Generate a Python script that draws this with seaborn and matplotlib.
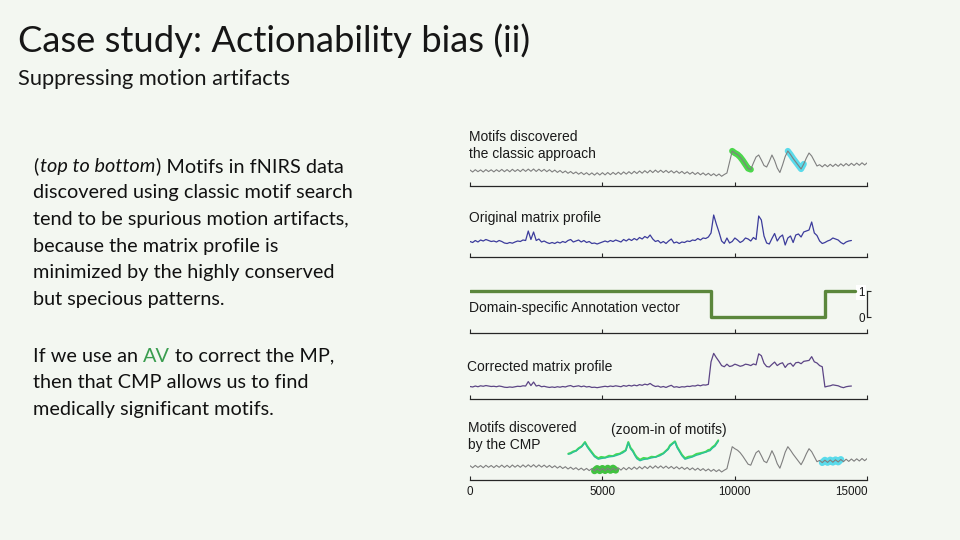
import numpy as np
import pandas as pd
import matplotlib
matplotlib.use("Agg")
import matplotlib.pyplot as plt
import seaborn as sns

# ------------------------------------------------------------------ data
sample_step = 100
x_ticks = [0, 5000, 10000, 15000]
x_tick_labels = ["0", "5000", "10000", "15000"]

# fNIRS recording (grey trace, arbitrary units), one value every 100 samples
fnirs_signal = [
    10.0, 8.0, 10.3, 8.3, 10.1, 8.0, 10.4, 8.4, 10.2, 8.1,
    10.3, 8.4, 10.6, 8.3, 10.4, 8.2, 10.7, 8.5, 10.5, 8.4,
    10.8, 8.6, 10.9, 8.7, 11.0, 8.5, 10.8, 8.6, 10.6, 8.3,
    10.3, 8.0, 9.9, 7.6, 9.5, 7.2, 9.0, 6.7, 8.5, 6.3,
    8.0, 5.8, 7.6, 5.4, 7.3, 5.1, 7.1, 4.9, 7.2, 5.0,
    7.3, 5.1, 7.5, 5.3, 7.6, 5.5, 7.8, 5.6, 8.1, 5.9,
    8.3, 6.2, 8.7, 6.5, 9.0, 6.8, 9.3, 7.1, 9.7, 7.4,
    9.9, 7.6, 9.8, 7.5, 9.6, 7.3, 9.3, 7.0, 9.0, 6.7,
    8.6, 6.3, 8.2, 5.9, 7.8, 5.5, 7.5, 5.2, 7.1, 4.8,
    6.7, 4.4, 6.3, 4.1, 6.0, 3.7, 5.5, 7.0, 18.0, 29.0,
    27.0, 25.5, 23.0, 19.5, 15.5, 11.5, 10.5, 17.0, 23.0, 25.0,
    20.0, 14.5, 13.0, 18.5, 25.0, 19.5, 12.0, 7.5, 15.0, 23.5,
    29.0, 25.5, 21.5, 18.0, 14.5, 11.0, 16.0, 22.0, 27.0, 24.0,
    19.0, 14.0, 15.3, 13.1, 15.5, 13.3, 15.7, 13.5, 15.9, 13.7,
    16.2, 14.0, 16.5, 14.3, 16.7, 14.5, 16.9, 14.7, 17.2, 15.0, 17.3,
]

# original matrix profile, one value every 100 samples
matrix_profile = [
    8.5, 7.5, 9.5, 8.0, 10.0, 9.0, 10.5, 9.5, 8.5, 9.0,
    8.0, 9.5, 8.5, 7.0, 6.5, 7.5, 6.8, 8.0, 9.0, 8.5,
    10.0, 9.5, 19.0, 10.5, 18.0, 9.5, 11.0, 8.0, 9.0, 7.5,
    6.5, 7.5, 6.5, 8.0, 7.0, 8.5, 7.5, 9.5, 10.5, 8.0,
    9.0, 10.0, 8.0, 9.5, 7.5, 8.5, 6.5, 7.0, 6.0, 7.0,
    8.0, 9.0, 8.0, 9.5, 8.5, 10.0, 9.0, 8.0, 10.5, 9.0,
    11.0, 9.5, 11.5, 10.0, 12.5, 11.0, 13.5, 12.0, 15.0, 11.0,
    8.5, 9.5, 7.0, 8.5, 6.5, 9.0, 11.0, 7.0, 8.0, 6.5,
    8.0, 7.5, 9.0, 8.5, 10.0, 9.5, 11.5, 10.0, 12.0, 11.5,
    13.0, 17.0, 35.0, 26.0, 18.0, 9.0, 6.5, 12.0, 7.0, 8.5,
    12.0, 10.0, 7.5, 9.0, 12.0, 11.0, 9.0, 12.5, 10.5, 34.0,
    30.0, 14.0, 7.0, 6.0, 11.5, 16.5, 9.0, 13.0, 15.0, 5.0,
    12.0, 14.0, 7.5, 15.0, 16.0, 13.0, 18.0, 19.0, 20.0, 28.0,
    17.0, 14.5, 9.0, 6.5, 7.5, 9.0, 10.0, 12.0, 11.0, 10.0,
    7.5, 6.0, 8.0, 9.0, 9.5,
]

# domain-specific annotation vector (step function)
av_x = [0, 9100, 9100, 13400, 13400, 14550]
av_y = [1, 1, 0, 0, 1, 1]
av_zero_start, av_zero_end = 9100, 13400
cmp_penalty = 44.0

# motif locations
classic_motif_green = (9900, 10600)
classic_motif_cyan = (12000, 12600)
cmp_motif_green = (4700, 5500)
cmp_motif_cyan = (13300, 14000)

# zoom-in of the two CMP motifs (drawn above the bottom trace)
zoom_x = [3711, 3800, 3900, 4000, 4100, 4220, 4342, 4420, 4500, 4600,
          4700, 4844, 4950, 5100, 5250, 5400, 5520, 5650, 5776, 5880,
          5977, 6060, 6150, 6230, 6300, 6418, 6550, 6700, 6850, 7000,
          7173, 7300, 7400, 7480, 7551, 7650, 7740, 7820, 7900, 8000,
          8117, 8250, 8400, 8550, 8684, 8800, 8900, 9000, 9061, 9150,
          9250, 9375]
zoom_green = [22.0, 22.8, 24.3, 25.0, 27.5, 29.5, 33.7, 30.0, 27.0, 23.5,
              20.0, 17.5, 18.8, 18.2, 20.0, 19.6, 21.5, 22.0, 24.0, 25.5,
              33.7, 28.0, 25.0, 21.0, 18.5, 16.0, 17.8, 17.2, 19.0, 18.6,
              21.0, 22.5, 25.0, 27.0, 30.4, 32.5, 34.4, 29.0, 25.5, 21.0,
              17.5, 19.0, 19.5, 21.8, 22.5, 23.2, 24.0, 25.8, 26.0, 28.5,
              30.5, 35.4]
zoom_teal = [21.5, 22.0, 23.6, 24.6, 26.8, 29.0, 33.0, 29.0, 26.0, 22.5,
             19.0, 16.5, 17.2, 17.8, 18.8, 19.3, 20.2, 21.4, 23.0, 25.0,
             33.0, 27.0, 24.0, 20.0, 17.0, 15.0, 16.2, 16.8, 17.8, 18.6,
             20.0, 22.0, 24.5, 26.2, 29.5, 31.8, 33.8, 28.0, 24.5, 20.0,
             16.5, 17.6, 18.8, 20.5, 21.5, 22.8, 23.5, 24.6, 25.0, 27.5,
             29.5, 34.5]

title = "Case study: Actionability bias (ii)"
subtitle = "Suppressing motion artifacts"

# ------------------------------------------------------------------ derived tables
fnirs = pd.DataFrame({"x": np.arange(len(fnirs_signal)) * sample_step,
                      "y": fnirs_signal})
mp = pd.DataFrame({"x": np.arange(len(matrix_profile)) * sample_step,
                   "y": matrix_profile})
av_at_mp = np.where((mp["x"] >= av_zero_start) & (mp["x"] < av_zero_end), 0, 1)
cmp = pd.DataFrame({"x": mp["x"], "y": mp["y"] + (1 - av_at_mp) * cmp_penalty})

# ------------------------------------------------------------------ style
sns.set_theme(style="white")
BG = "#f3f7f1"
plt.rcParams["font.family"] = ["Liberation Sans", "DejaVu Sans"]
W, H = 960, 540
fig = plt.figure(figsize=(9.6, 5.4), dpi=100, facecolor=BG)
renderer = fig.canvas.get_renderer()

AX_L, AX_W = 470, 397.3
INK = "#262626"


def add_ax(top, bottom, ylim, labels=False):
    ax = fig.add_axes([AX_L / W, 1 - bottom / H, AX_W / W, (bottom - top) / H])
    ax.set_facecolor("none")
    ax.set_xlim(0, 15000)
    ax.set_ylim(*ylim)
    for s in ["top", "right", "left"]:
        ax.spines[s].set_visible(False)
    ax.spines["bottom"].set_color(INK)
    ax.spines["bottom"].set_linewidth(0.9)
    ax.set_xticks(x_ticks)
    ax.set_xticklabels(x_tick_labels)
    ax.tick_params(axis="x", direction="in", length=3.2, width=0.8, color=INK,
                   labelsize=8.4, pad=4.5, labelbottom=labels, bottom=True,
                   labelcolor="#1a1a1a")
    ax.set_yticks([])
    return ax


def line(ax, df, color, lw, alpha=1.0, z=2):
    sns.lineplot(x=df["x"], y=df["y"], ax=ax, color=color, linewidth=lw,
                 alpha=alpha, estimator=None, sort=False, zorder=z)
    ax.set_xlabel("")
    ax.set_ylabel("")


def window(df, span):
    return df[(df["x"] >= span[0]) & (df["x"] <= span[1])]


def P(x, y):
    return x / W, 1 - y / H


GRAY = "#7f7f7f"
GREEN_HI = "#2fd12f"
CYAN_HI = "#3fd6ea"

# panel 1: motifs found by classic approach
ax1 = add_ax(135, 186, (-6, 45))
line(ax1, window(fnirs, classic_motif_green), GREEN_HI, 4.5, 0.85, 1)
line(ax1, window(fnirs, classic_motif_cyan), CYAN_HI, 4.5, 0.85, 1)
line(ax1, fnirs, GRAY, 0.8)

# panel 2: original matrix profile
ax2 = add_ax(205, 256.7, (-6.7, 45))
line(ax2, mp, "#3c3c9c", 0.9)

# panel 3: annotation vector
ax3 = add_ax(280, 333, (-0.615, 1.423))
line(ax3, pd.DataFrame({"x": av_x, "y": av_y}), "#5b873c", 2.4)
ax3.spines["left"].set_visible(True)
ax3.spines["left"].set_position(("data", 15000))
ax3.spines["left"].set_bounds(0, 1)
ax3.spines["left"].set_color(INK)
ax3.spines["left"].set_linewidth(0.9)
ax3.set_yticks([0, 1])
ax3.set_yticklabels(["0", "1"])
ax3.tick_params(axis="y", direction="in", length=3.2, width=0.8, color=INK,
                labelsize=8.4, pad=2, left=True, labelleft=True,
                labelcolor="#1a1a1a")
ax3.get_yticklabels()[1].set_bbox(dict(facecolor="white", edgecolor="none", pad=1.2))

# panel 4: corrected matrix profile
ax4 = add_ax(345, 399, (-18.1, 96.8))
line(ax4, cmp, "#5c4585", 0.9)

# panel 5: motifs found by the CMP
ax5 = add_ax(425, 480, (-4.3, 50.7), labels=True)
line(ax5, window(fnirs, cmp_motif_green), "#2dbd2d", 5.0, 0.9, 1)
line(ax5, window(fnirs, cmp_motif_cyan), CYAN_HI, 5.0, 0.85, 1)
line(ax5, fnirs, GRAY, 0.8)
line(ax5, pd.DataFrame({"x": zoom_x, "y": zoom_green}), "#46dc50", 1.4)
line(ax5, pd.DataFrame({"x": zoom_x, "y": zoom_teal}), "#2cbf9c", 1.0)
ax5.get_xticklabels()[-1].set_ha("right")

# panel captions
cap_kw = dict(fontsize=10, color="#1a1a1a", family=["Liberation Sans", "DejaVu Sans"],
              linespacing=1.22)
fig.text(*P(469, 145.5), "Motifs discovered\nthe classic approach", va="center", ha="left", **cap_kw)
fig.text(*P(469, 218), "Original matrix profile", va="center", ha="left", **cap_kw)
fig.text(*P(469, 308), "Domain-specific Annotation vector", va="center", ha="left", **cap_kw)
fig.text(*P(467, 367), "Corrected matrix profile", va="center", ha="left", **cap_kw)
fig.text(*P(468, 436.5), "Motifs discovered\nby the CMP", va="center", ha="left", **cap_kw)
fig.text(*P(611, 430), "(zoom-in of motifs)", va="center", ha="left", **cap_kw)

# ------------------------------------------------------------------ left side text
LFONT = ["Lato", "DejaVu Sans"]


def text_width(s, size, **kw):
    t = fig.text(0, 0, s, fontsize=size, family=LFONT, **kw)
    w = t.get_window_extent(renderer).width
    t.remove()
    return w


def fit(s, target, **kw):
    return 20 * target / text_width(s, 20, **kw)


title_size = fit(title, 513)
fig.text(*P(18, 52), title, fontsize=title_size, family=LFONT,
         va="baseline", ha="left", color="#161616")
sub_size = fit(subtitle, 273)
fig.text(*P(18, 85), subtitle, fontsize=sub_size, family=LFONT,
         va="baseline", ha="left", color="#161616")

body_size = fit("tend to be spurious motion artifacts,", 318)
body_kw = dict(fontsize=body_size, family=LFONT, va="baseline", color="#111111")
X0 = 33


def px_width(s, **kw):
    return text_width(s, body_size, **kw)


# line 1 with italic part
y1 = 171.7
t = fig.text(*P(X0, y1), "(", ha="left", **body_kw)
x = t.get_window_extent(renderer).x1 + 1.5
t = fig.text(*P(x, y1), "top to bottom", ha="left", style="italic", **body_kw)
x = t.get_window_extent(renderer).x1 + 1.0
fig.text(*P(x, y1), ") Motifs in fNIRS data", ha="left", **body_kw)

body_lines = [
    "discovered using classic motif search",
    "tend to be spurious motion artifacts,",
    "because the matrix profile is",
    "minimized by the highly conserved",
    "but specious patterns.",
]
for k, s in enumerate(body_lines):
    fig.text(*P(X0, y1 + 26.65 * (k + 1)), s, ha="left", **body_kw)

# second paragraph with coloured "AV"
y2 = 361.7
pieces = [("If we use an", "#111111"), ("AV", "#3a9d4f"), ("to correct the MP,", "#111111")]
full = ""
for k, (s, c) in enumerate(pieces):
    full = s if k == 0 else full + " " + s
    if k == 0:
        fig.text(*P(X0, y2), s, ha="left", **{**body_kw, "color": c})
    else:
        xr = X0 + px_width(full)
        fig.text(*P(xr, y2), s, ha="right", **{**body_kw, "color": c})
for k, s in enumerate(["then that CMP allows us to find", "medically significant motifs."]):
    fig.text(*P(X0, y2 + 26.65 * (k + 1)), s, ha="left", **body_kw)

fig.savefig("out.png", dpi=100, facecolor=BG)
